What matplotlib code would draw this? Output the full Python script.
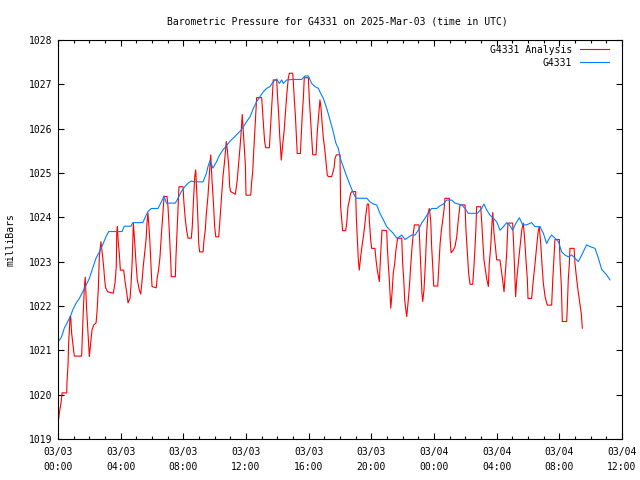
import matplotlib
matplotlib.use('Agg')
import matplotlib.pyplot as plt
from matplotlib.ticker import MultipleLocator

# hours since 2025-03-03 00:00 UTC, pressure in millibars
analysis_hours = [
    0.04, 0.10, 0.19, 0.26, 0.56, 0.57, 0.64, 0.68, 0.77, 0.81, 0.87, 0.94, 1.00, 1.04, 1.51, 1.53,
    1.61, 1.68, 1.74, 1.82, 1.96, 2.00, 2.09, 2.17, 2.28, 2.43, 2.49, 2.57, 2.64, 2.74, 2.85, 2.92,
    2.98, 3.04, 3.17, 3.53, 3.64, 3.72, 3.75, 3.79, 3.85, 3.91, 3.98, 4.19, 4.28, 4.38, 4.47, 4.60,
    4.66, 4.74, 4.81, 4.90, 4.98, 5.06, 5.19, 5.28, 5.36, 5.44, 5.53, 5.62, 5.68, 5.74, 5.85, 5.92,
    6.00, 6.27, 6.34, 6.42, 6.51, 6.59, 6.68, 6.77, 6.96, 7.02, 7.09, 7.15, 7.21, 7.23, 7.49, 7.53,
    7.60, 7.66, 7.72, 7.98, 8.04, 8.13, 8.21, 8.30, 8.51, 8.57, 8.66, 8.73, 8.79, 8.87, 8.94, 8.98,
    9.04, 9.26, 9.32, 9.40, 9.47, 9.57, 9.68, 9.75, 9.83, 9.91, 10.00, 10.07, 10.26, 10.32, 10.43, 10.53,
    10.64, 10.74, 10.81, 10.90, 10.96, 11.02, 11.32, 11.44, 11.53, 11.62, 11.70, 11.76, 11.83, 11.89, 11.96, 12.00,
    12.30, 12.36, 12.43, 12.49, 12.56, 12.64, 12.68, 13.00, 13.07, 13.13, 13.19, 13.26, 13.49, 13.55, 13.62, 13.68,
    13.74, 13.96, 14.02, 14.09, 14.15, 14.22, 14.25, 14.34, 14.43, 14.51, 14.60, 14.70, 14.77, 14.98, 15.02, 15.08,
    15.15, 15.21, 15.27, 15.47, 15.53, 15.59, 15.66, 15.72, 15.98, 16.04, 16.13, 16.19, 16.26, 16.47, 16.55, 16.64,
    16.72, 16.79, 16.85, 16.94, 17.02, 17.11, 17.19, 17.26, 17.47, 17.62, 17.68, 17.77, 18.00, 18.04, 18.11, 18.17,
    18.36, 18.43, 18.51, 18.60, 18.68, 18.75, 19.00, 19.04, 19.11, 19.17, 19.23, 19.32, 19.40, 19.49, 19.57, 19.66,
    19.74, 19.83, 19.87, 19.96, 20.02, 20.23, 20.30, 20.38, 20.51, 20.60, 20.68, 20.98, 21.02, 21.08, 21.15, 21.21,
    21.24, 21.32, 21.40, 21.49, 21.57, 21.68, 21.94, 22.00, 22.07, 22.13, 22.19, 22.26, 22.34, 22.43, 22.51, 22.60,
    22.68, 22.75, 23.04, 23.10, 23.17, 23.23, 23.28, 23.36, 23.45, 23.53, 23.62, 23.70, 23.79, 23.85, 23.92, 23.98,
    24.24, 24.32, 24.39, 24.47, 24.56, 24.64, 24.70, 24.98, 25.02, 25.09, 25.23, 25.34, 25.45, 25.55, 25.66, 25.98,
    26.04, 26.13, 26.21, 26.30, 26.47, 26.55, 26.62, 26.68, 26.72, 26.98, 27.05, 27.11, 27.19, 27.28, 27.36, 27.47,
    27.53, 27.62, 27.70, 27.75, 27.83, 27.92, 28.00, 28.21, 28.30, 28.38, 28.47, 28.55, 28.64, 28.72, 29.02, 29.09,
    29.15, 29.21, 29.28, 29.38, 29.49, 29.60, 29.70, 29.79, 29.87, 29.96, 30.00, 30.23, 30.34, 30.45, 30.55, 30.66,
    30.72, 30.81, 30.89, 30.98, 31.09, 31.23, 31.51, 31.58, 31.66, 31.72, 32.00, 32.05, 32.13, 32.19, 32.47, 32.51,
    32.57, 32.64, 32.68, 32.94, 33.00, 33.11, 33.19, 33.28, 33.34, 33.40, 33.47,
]
analysis_mb = [
    1019.45, 1019.62, 1019.81, 1020.04, 1020.04, 1020.26, 1020.67, 1021.17, 1021.76, 1021.76, 1021.39, 1021.17, 1020.97, 1020.87, 1020.87, 1021.08,
    1021.84, 1022.41, 1022.65, 1021.98, 1021.08, 1020.86, 1021.17, 1021.46, 1021.57, 1021.62, 1021.87, 1022.36, 1023.11, 1023.45, 1023.11, 1022.86,
    1022.59, 1022.41, 1022.32, 1022.29, 1022.52, 1022.89, 1023.65, 1023.79, 1023.42, 1023.20, 1022.81, 1022.81, 1022.55, 1022.32, 1022.07, 1022.18,
    1022.47, 1023.04, 1023.87, 1023.42, 1022.97, 1022.59, 1022.36, 1022.27, 1022.55, 1022.89, 1023.20, 1023.49, 1023.87, 1024.10, 1023.56, 1023.04,
    1022.44, 1022.41, 1022.66, 1022.81, 1023.11, 1023.56, 1024.01, 1024.47, 1024.47, 1024.24, 1023.79, 1023.34, 1022.89, 1022.66, 1022.66, 1023.11,
    1023.71, 1024.24, 1024.69, 1024.69, 1024.32, 1023.94, 1023.71, 1023.53, 1023.53, 1023.79, 1024.47, 1024.92, 1025.07, 1024.47, 1023.87, 1023.42,
    1023.22, 1023.22, 1023.49, 1023.71, 1024.09, 1024.47, 1025.07, 1025.41, 1024.84, 1024.39, 1023.79, 1023.56, 1023.56, 1023.87, 1024.47, 1024.92,
    1025.29, 1025.71, 1025.52, 1025.14, 1024.69, 1024.58, 1024.52, 1024.84, 1025.22, 1025.59, 1025.97, 1026.32, 1025.93, 1025.56, 1025.18, 1024.50,
    1024.50, 1024.80, 1025.03, 1025.48, 1025.93, 1026.46, 1026.70, 1026.70, 1026.31, 1026.01, 1025.71, 1025.57, 1025.57, 1025.93, 1026.31, 1026.68,
    1027.10, 1027.10, 1026.68, 1026.31, 1025.86, 1025.48, 1025.29, 1025.63, 1025.93, 1026.31, 1026.76, 1027.14, 1027.25, 1027.25, 1027.06, 1026.68,
    1026.31, 1025.86, 1025.44, 1025.44, 1025.86, 1026.31, 1026.68, 1027.15, 1027.15, 1026.68, 1026.16, 1025.78, 1025.41, 1025.41, 1025.93, 1026.31,
    1026.65, 1026.46, 1026.16, 1025.78, 1025.56, 1025.25, 1024.95, 1024.92, 1024.92, 1025.11, 1025.33, 1025.41, 1025.41, 1024.24, 1023.94, 1023.70,
    1023.70, 1023.87, 1024.24, 1024.39, 1024.54, 1024.58, 1024.58, 1024.01, 1023.49, 1023.04, 1022.81, 1023.11, 1023.34, 1023.56, 1023.79, 1024.09,
    1024.30, 1024.30, 1023.94, 1023.49, 1023.30, 1023.30, 1023.04, 1022.81, 1022.55, 1023.20, 1023.71, 1023.70, 1023.34, 1022.96, 1022.59, 1022.14,
    1021.95, 1022.29, 1022.74, 1022.96, 1023.26, 1023.53, 1023.53, 1022.96, 1022.59, 1022.14, 1021.95, 1021.76, 1022.06, 1022.44, 1022.89, 1023.34,
    1023.64, 1023.83, 1023.83, 1023.34, 1022.81, 1022.29, 1022.10, 1022.36, 1022.96, 1023.64, 1024.09, 1024.20, 1023.94, 1023.34, 1022.89, 1022.45,
    1022.45, 1022.96, 1023.41, 1023.71, 1023.94, 1024.17, 1024.43, 1024.43, 1023.56, 1023.20, 1023.26, 1023.34, 1023.56, 1023.94, 1024.28, 1024.28,
    1023.71, 1023.19, 1022.74, 1022.49, 1022.49, 1022.89, 1023.34, 1023.79, 1024.24, 1024.24, 1023.87, 1023.49, 1023.04, 1022.81, 1022.62, 1022.44,
    1022.96, 1023.34, 1023.87, 1024.11, 1023.64, 1023.34, 1023.04, 1023.04, 1022.81, 1022.59, 1022.32, 1022.74, 1023.19, 1023.87, 1023.87, 1023.34,
    1022.74, 1022.21, 1022.59, 1022.96, 1023.34, 1023.71, 1023.87, 1023.49, 1023.04, 1022.59, 1022.17, 1022.17, 1022.59, 1022.96, 1023.34, 1023.71,
    1023.79, 1023.41, 1022.96, 1022.51, 1022.21, 1022.02, 1022.02, 1022.59, 1023.11, 1023.50, 1023.50, 1022.96, 1022.44, 1021.65, 1021.65, 1021.98,
    1022.59, 1022.96, 1023.30, 1023.30, 1022.96, 1022.59, 1022.36, 1022.14, 1021.98, 1021.83, 1021.50,
]

station_hours = [
    0.00, 0.19, 0.30, 0.40, 0.51, 0.62, 0.72, 0.83, 0.94, 1.15, 1.36, 1.58, 1.79, 2.00, 2.21, 2.43,
    2.64, 2.85, 3.06, 3.24, 4.09, 4.23, 4.66, 4.77, 5.41, 5.74, 5.96, 6.38, 6.60, 6.77, 6.92, 7.49,
    7.66, 7.87, 8.09, 8.30, 8.51, 8.72, 9.26, 9.47, 9.57, 9.70, 9.89, 10.11, 10.32, 10.53, 10.74, 10.96,
    11.28, 11.70, 11.83, 12.04, 12.26, 12.47, 12.68, 12.89, 13.10, 13.32, 13.53, 13.74, 13.96, 14.13, 14.28, 14.38,
    14.60, 15.02, 15.55, 15.77, 15.98, 16.19, 16.40, 16.62, 16.72, 16.94, 17.15, 17.36, 17.57, 17.74, 17.89, 18.02,
    18.21, 18.43, 18.64, 18.81, 19.02, 19.72, 19.91, 20.13, 20.34, 20.55, 20.77, 20.98, 21.19, 21.40, 21.62, 21.79,
    21.94, 22.15, 22.36, 22.58, 22.79, 23.00, 23.21, 23.43, 23.64, 23.85, 24.17, 24.38, 24.60, 24.81, 25.13, 25.34,
    25.55, 25.77, 25.98, 26.19, 26.51, 26.77, 27.04, 27.19, 27.36, 27.57, 27.79, 28.00, 28.21, 28.43, 28.64, 28.81,
    29.02, 29.23, 29.45, 29.66, 29.91, 30.23, 30.45, 30.77, 30.98, 31.19, 31.36, 31.51, 31.72, 31.94, 32.15, 32.36,
    32.57, 32.79, 33.00, 33.21, 33.43, 33.74, 33.96, 34.28, 34.49, 34.70, 35.02, 35.23,
]
station_mb = [
    1021.19, 1021.28, 1021.38, 1021.50, 1021.57, 1021.65, 1021.72, 1021.80, 1021.91, 1022.06, 1022.17, 1022.32, 1022.47, 1022.62, 1022.85, 1023.08,
    1023.22, 1023.38, 1023.56, 1023.68, 1023.68, 1023.80, 1023.80, 1023.88, 1023.88, 1024.13, 1024.20, 1024.20, 1024.35, 1024.48, 1024.32, 1024.32,
    1024.43, 1024.58, 1024.69, 1024.77, 1024.82, 1024.80, 1024.80, 1024.99, 1025.14, 1025.28, 1025.11, 1025.25, 1025.41, 1025.52, 1025.61, 1025.71,
    1025.82, 1025.97, 1026.04, 1026.16, 1026.27, 1026.46, 1026.61, 1026.72, 1026.83, 1026.91, 1026.95, 1027.06, 1027.12, 1027.02, 1027.10, 1027.02,
    1027.10, 1027.11, 1027.11, 1027.19, 1027.19, 1027.02, 1026.95, 1026.91, 1026.83, 1026.68, 1026.46, 1026.20, 1025.93, 1025.67, 1025.56, 1025.33,
    1025.14, 1024.92, 1024.73, 1024.58, 1024.43, 1024.43, 1024.35, 1024.30, 1024.28, 1024.09, 1023.94, 1023.79, 1023.71, 1023.64, 1023.53, 1023.56,
    1023.60, 1023.50, 1023.55, 1023.60, 1023.60, 1023.71, 1023.87, 1023.98, 1024.10, 1024.20, 1024.20, 1024.26, 1024.30, 1024.39, 1024.39, 1024.32,
    1024.30, 1024.28, 1024.20, 1024.09, 1024.09, 1024.09, 1024.20, 1024.30, 1024.17, 1024.05, 1023.98, 1023.90, 1023.71, 1023.79, 1023.88, 1023.83,
    1023.71, 1023.87, 1023.99, 1023.83, 1023.83, 1023.88, 1023.79, 1023.79, 1023.64, 1023.41, 1023.53, 1023.60, 1023.53, 1023.45, 1023.22, 1023.15,
    1023.11, 1023.15, 1023.08, 1023.00, 1023.15, 1023.38, 1023.34, 1023.30, 1023.08, 1022.83, 1022.70, 1022.59,
]

tick_hours = [0, 4, 8, 12, 16, 20, 24, 28, 32, 36]
tick_labels = ['03/03\n00:00', '03/03\n04:00', '03/03\n08:00', '03/03\n12:00', '03/03\n16:00',
               '03/03\n20:00', '03/04\n00:00', '03/04\n04:00', '03/04\n08:00', '03/04\n12:00']

plt.rcParams['font.family'] = ['DejaVu Sans Mono']
plt.rcParams['font.size'] = 7

fig = plt.figure(figsize=(6.4, 4.8), dpi=100)
ax = fig.add_axes([58 / 640, 41 / 480, 564 / 640, 399 / 480])

ax.plot(analysis_hours, analysis_mb, color='#ff0000', linewidth=0.8, label='G4331 Analysis')
ax.plot(station_hours, station_mb, color='#0080ff', linewidth=0.8, label='G4331')

ax.set_xlim(0, 36)
ax.set_ylim(1019, 1028)
ax.set_xticks(tick_hours)
ax.set_xticklabels(tick_labels, linespacing=1.6)
ax.xaxis.set_minor_locator(MultipleLocator(1))
ax.set_yticks(range(1019, 1029))

ax.tick_params(which='both', direction='in', top=True, right=True, colors='black', pad=4)
ax.tick_params(which='major', length=4, width=0.8)
ax.tick_params(which='minor', length=2, width=0.8)
ax.tick_params(axis='x', which='major', pad=6)
for s in ax.spines.values():
    s.set_linewidth(0.8)

ax.set_ylabel('milliBars', labelpad=10)
ax.set_title('Barometric Pressure for G4331 on 2025-Mar-03 (time in UTC)', fontsize=7,
             pad=11, x=0.496)

leg = ax.legend(loc='upper right', bbox_to_anchor=(1 - 6 / 564, 1 + 2 / 399), frameon=False,
                markerfirst=False, handlelength=3.0, handletextpad=0.8, labelspacing=0.3,
                borderaxespad=0.3)

fig.savefig('out.png', dpi=100)
